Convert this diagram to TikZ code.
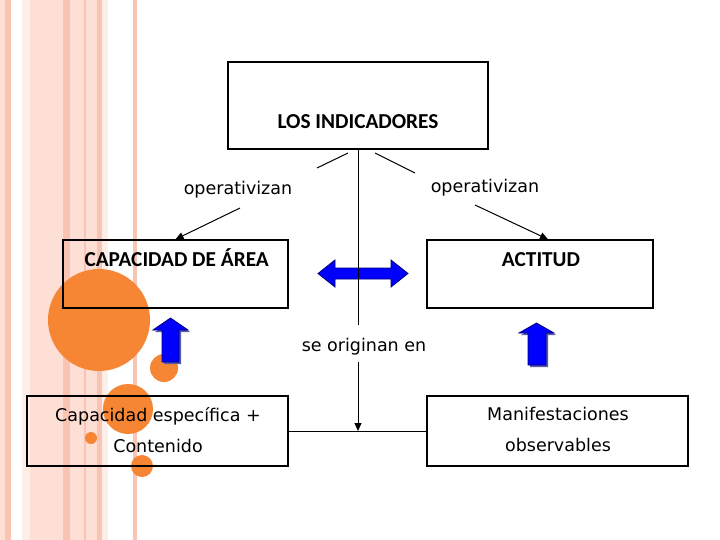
\documentclass[tikz,border=0pt]{standalone}
\usepackage{fontspec}
\setmainfont{DejaVu Sans}
\newfontfamily\titlefont{Carlito}
\usetikzlibrary{arrows.meta,calc}
\definecolor{ink}{RGB}{0,0,0}
\definecolor{stripe}{RGB}{253,223,213}
\definecolor{stripedark}{RGB}{250,196,178}
\definecolor{stripelight}{RGB}{254,238,232}
\definecolor{dot}{RGB}{247,134,52}
\definecolor{push}{RGB}{0,0,255}
\definecolor{pushedge}{RGB}{0,0,120}
\definecolor{pushshade}{RGB}{90,90,170}
\tikzset{
  every picture/.style={color=ink, line width=1pt},
  box/.style={draw=ink, line width=1.4pt, inner sep=0pt},
  head/.style={font=\titlefont\bfseries\fontsize{21.3}{24}\selectfont, inner sep=0pt},
  txt/.style={font=\fontsize{17.5}{31}\selectfont, inner sep=0pt, align=center},
  flow/.style={-{Triangle[length=8pt,width=7pt]}, line width=1pt},
  blockarrow/.style={fill=push, draw=pushedge, line width=0.8pt},
  blockshade/.style={fill=pushshade, draw=none},
  dotfill/.style={fill=dot, draw=none},
}

\begin{document}
\begin{tikzpicture}[x=1pt, y=-1pt]
  \useasboundingbox (0,0) rectangle (720,540);
  \fill[white] (0,0) rectangle (720,540);
  % striped margin on the left
  \foreach \a/\b/\c in {0/5/stripe, 5/11/stripedark, 22/30/stripelight, 30/63/stripe,
      63/70/stripedark, 70/84/stripe, 84/85.5/stripedark, 85.5/97/stripe,
      97/102/stripedark, 102/108/stripelight, 133/137/stripedark}
    \fill[\c] (\a,0) rectangle (\b,540);
  \fill[dotfill] (99,320) circle (51);
  \fill[dotfill] (164,368) circle (14);
  \fill[dotfill] (128,409) circle (25);
  \fill[dotfill] (91,438) circle (6);
  \fill[dotfill] (142,466) circle (11);

  \node[box, minimum width=260, minimum height=87] (ind) at (358,105.5) {};
  \node[head, anchor=base] (indtxt) at (358,129) {LOS INDICADORES};
  \node[box, minimum width=225, minimum height=68] (cap) at (175.5,274) {};
  \node[head, anchor=base west] (captxt) at (84,266) {CAPACIDAD DE ÁREA};
  \node[box, minimum width=226, minimum height=68] (act) at (540,274) {};
  \node[head, anchor=base] (acttxt) at (541,266) {ACTITUD};
  \node[box, minimum width=261, minimum height=70] (esp) at (157.5,431) {};
  \node[txt] (esptxt) at (158,430) {Capacidad específica +\\Contenido};
  \node[box, minimum width=261, minimum height=70] (obs) at (557.5,431) {};
  \node[txt] (obstxt) at (558,429) {Manifestaciones\\observables};

  \node[txt, anchor=base] (opl) at (238,195) {operativizan};
  \node[txt, anchor=base] (opr) at (485,193) {operativizan};
  \node[txt, anchor=base] (orig) at (364,351) {se originan en};
  \coordinate (opl1) at (348,153); \coordinate (opl2) at (317,168);
  \coordinate (opl3) at (240,208);
  \coordinate (opr1) at (375,153); \coordinate (opr2) at (415,173);
  \coordinate (opr3) at (475,205);
  \coordinate (gaptop) at (358,325);
  \coordinate (gapbot) at (358,362);
  \coordinate (meet) at (ind.south |- esp.east);

  % blue block arrows
  \draw[blockarrow] (318,273.5) -- (335,260) -- (335,268) -- (391,268) -- (391,260)
    -- (408,273.5) -- (391,287) -- (391,279) -- (335,279) -- (335,287) -- cycle;
  \begin{scope}[shift={(2,2)}]
    \fill[blockshade] (170.5,318) -- (188,330) -- (179,330) -- (179,362) -- (162,362)
      -- (162,330) -- (153,330) -- cycle;
    \fill[blockshade] (536.5,323) -- (554,333) -- (546,333) -- (546,365) -- (528,365)
      -- (528,333) -- (519,333) -- cycle;
  \end{scope}
  \draw[blockarrow] (170.5,318) -- (188,330) -- (179,330) -- (179,362) -- (162,362)
    -- (162,330) -- (153,330) -- cycle;
  \draw[blockarrow] (536.5,323) -- (554,333) -- (546,333) -- (546,365) -- (528,365)
    -- (528,333) -- (519,333) -- cycle;

  \draw (opl1) -- (opl2);
  \draw[flow] (opl3) -- (cap.north);
  \draw (opr1) -- (opr2);
  \draw[flow] (opr3) -- ($(act.north)+(8,0)$);
  \draw (ind.south) -- (gaptop);
  \draw[flow] (gapbot) -- (meet);
  \draw (esp.east) -- (obs.west);
\end{tikzpicture}
\end{document}
